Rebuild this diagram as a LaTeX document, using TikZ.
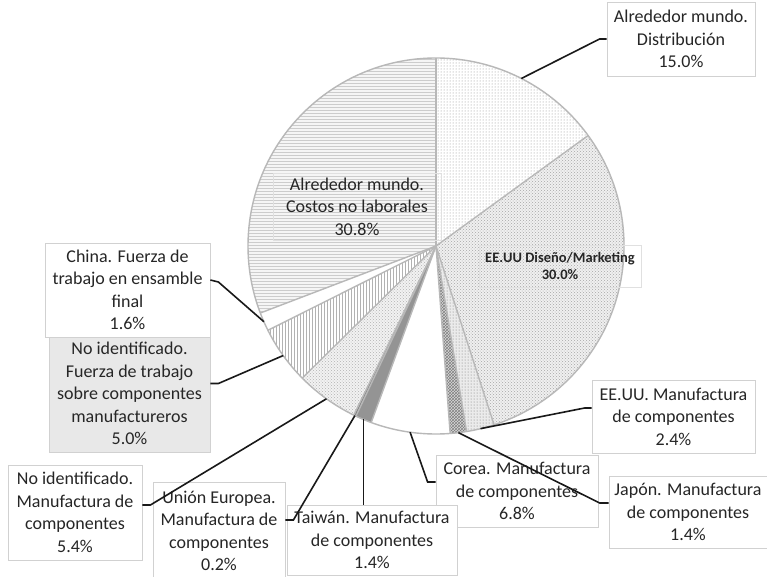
\documentclass[tikz,border=0pt]{standalone}
\usepackage{fontspec}
\setmainfont{Carlito}
\usetikzlibrary{patterns,calc}
\begin{document}
\begin{tikzpicture}[x=1pt,y=1pt,
  lbl/.style={draw=black!18, line width=0.8pt, fill=white, align=center, inner sep=0pt,
    text=black!85, font=\fontsize{18}{22.5}\selectfont},
  inlbl/.style={lbl, fill=none, draw=black!12},
  leader/.style={draw=black!90, line width=1.6pt},
  slice/.style={draw=black!28, line width=1.4pt}]
\useasboundingbox (0,0) rectangle (767,576);
\fill[white] (0,0) rectangle (767,576);
\coordinate (C) at (436,330);
\def\R{188}
% slices
\path[fill=black!4, postaction={pattern=horizontal lines, pattern color=black!20}]
  (C) -- ++(-159.12:\R) arc[start angle=-159.12, end angle=-270, radius=\R] -- cycle;
\path[fill=white, postaction={pattern=dots, pattern color=black!45}]
  (C) -- ++(90:\R) arc[start angle=90, end angle=36, radius=\R] -- cycle;
\path[fill=black!6, postaction={pattern=crosshatch dots, pattern color=black!35}]
  (C) -- ++(36:\R) arc[start angle=36, end angle=-72, radius=\R] -- cycle;
\path[fill=black!8, postaction={pattern=dots, pattern color=black!55}]
  (C) -- ++(-72:\R) arc[start angle=-72, end angle=-80.64, radius=\R] -- cycle;
\path[fill=black!15, postaction={pattern=crosshatch, pattern color=black!50}]
  (C) -- ++(-80.64:\R) arc[start angle=-80.64, end angle=-85.68, radius=\R] -- cycle;
\path[fill=white]
  (C) -- ++(-85.68:\R) arc[start angle=-85.68, end angle=-110.16, radius=\R] -- cycle;
\path[fill=black!42]
  (C) -- ++(-110.16:\R) arc[start angle=-110.16, end angle=-115.2, radius=\R] -- cycle;
\path[fill=black!50]
  (C) -- ++(-115.2:\R) arc[start angle=-115.2, end angle=-115.92, radius=\R] -- cycle;
\path[fill=black!5, postaction={pattern=crosshatch dots, pattern color=black!30}]
  (C) -- ++(-115.92:\R) arc[start angle=-115.92, end angle=-135.36, radius=\R] -- cycle;
\path[fill=white, postaction={pattern=vertical lines, pattern color=black!30}]
  (C) -- ++(-135.36:\R) arc[start angle=-135.36, end angle=-153.36, radius=\R] -- cycle;
\path[fill=white]
  (C) -- ++(-153.36:\R) arc[start angle=-153.36, end angle=-159.12, radius=\R] -- cycle;
% borders
\foreach \a in {90,36,-72,-80.64,-85.68,-110.16,-115.2,-115.92,-135.36,-153.36,-159.12}
  \draw[slice] (C) -- ++(\a:\R);
\draw[slice] (C) circle[radius=\R];
% leader end points on the rim
\path (C) ++(63:\R) coordinate (pDist);
\path (C) ++(-76.32:\R) coordinate (pEEm);
\path (C) ++(-83.16:\R) coordinate (pJap);
\path (C) ++(-97.92:\R) coordinate (pCor);
\path (C) ++(-112.68:\R) coordinate (pTw);
\path (C) ++(-115.56:\R) coordinate (pEU);
\path (C) ++(-125.64:\R) coordinate (pNIM);
\path (C) ++(-144.36:\R) coordinate (pFz);
\path (C) ++(-156.24:\R) coordinate (pCh);
% labels inside the pie
\node[inlbl, minimum width=168pt, minimum height=67pt] (costos) at (357,369.5)
  {Alrededor mundo.\\Costos no laborales\\30.8\%};
\node[inlbl, minimum width=162pt, minimum height=42pt,
  font=\bfseries\fontsize{14.5}{17}\selectfont] (diseno) at (560,310)
  {EE.UU Diseño/Marketing\\30.0\%};
% label boxes
\node[lbl, minimum width=148pt, minimum height=74pt] (dist) at (681,537)
  {Alrededor mundo.\\Distribución\\15.0\%};
\node[lbl, minimum width=163pt, minimum height=73pt] (eeuum) at (673.5,159.5)
  {EE.UU. Manufactura\\de componentes\\2.4\%};
\node[lbl, minimum width=158pt, minimum height=72pt] (japon) at (688,64)
  {Japón. Manufactura\\de componentes\\1.4\%};
\node[lbl, minimum width=162pt, minimum height=72pt] (corea) at (517,85)
  {Corea. Manufactura\\de componentes\\6.8\%};
\node[lbl, minimum width=170pt, minimum height=70pt] (taiwan) at (372,36)
  {Taiwán. Manufactura\\de componentes\\1.4\%};
\node[lbl, minimum width=132pt, minimum height=98pt] (eu) at (219,45)
  {Unión Europea.\\Manufactura de\\componentes\\0.2\%};
\node[lbl, minimum width=134pt, minimum height=95pt] (noidm) at (75,63.5)
  {No identificado.\\Manufactura de\\componentes\\5.4\%};
\node[lbl, fill=black!9, minimum width=161pt, minimum height=117pt] (fuerza) at (129.5,182.5)
  {No identificado.\\Fuerza de trabajo\\sobre componentes\\manufactureros\\5.0\%};
\node[lbl, minimum width=165pt, minimum height=94pt] (china) at (127.5,286)
  {China. Fuerza de\\trabajo en ensamble\\final\\1.6\%};
% leaders
\draw[leader] (dist.west) -- ++(-7,0) -- (pDist);
\draw[leader] ($(eeuum.west)+(0,8.5)$) -- ++(-7,0) -- (pEEm);
\draw[leader] ($(japon.west)+(0,9)$) -- ++(-9,0) -- (pJap);
\draw[leader] ($(corea.west)+(0,9)$) -- ++(-8,0) -- (pCor);
\draw[leader] (pTw) -- (pTw |- taiwan.north);
\draw[leader] ($(eu.east)+(0,11)$) -- ++(8,0) -- (pEU);
\draw[leader] ($(noidm.east)+(0,7.5)$) -- ++(8,0) -- (pNIM);
\draw[leader] ($(fuerza.east)+(0,10)$) -- ++(8,0) -- (pFz);
\draw[leader] ($(china.east)+(0,10)$) -- ++(8,-2) -- (pCh);
\end{tikzpicture}
\end{document}
